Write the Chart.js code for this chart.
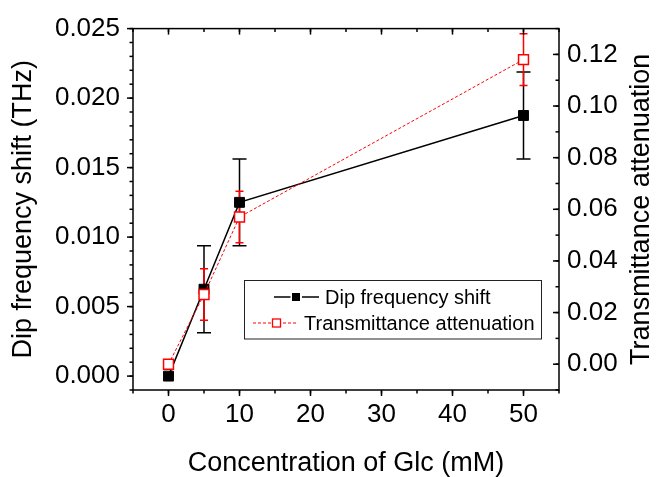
<!DOCTYPE html>
<html>
<head>
<meta charset="utf-8">
<script src="https://cdn.jsdelivr.net/npm/chart.js@4.4.1/dist/chart.umd.min.js"></script>
<style>
  html, body { margin: 0; padding: 0; background: #fff; }
  #chart { display: block; }
</style>
</head>
<body>
<canvas id="chart" width="656" height="477"></canvas>
<script>
// values
const concentration = [0, 5, 10, 50];
const freqShift = [0, 0.00625, 0.0125, 0.01875];
const freqShiftErr = [0, 0.003125, 0.003125, 0.003125];
const attenuation = [0, 0.027, 0.057, 0.118];
const attenuationErr = [0, 0.01, 0.01, 0.01];

const xTicks = [0, 10, 20, 30, 40, 50];
const leftTicks = [0, 0.005, 0.01, 0.015, 0.02, 0.025];
const leftTickLabels = ["0.000", "0.005", "0.010", "0.015", "0.020", "0.025"];
const rightTicks = [0, 0.02, 0.04, 0.06, 0.08, 0.1, 0.12];
const rightTickLabels = ["0.00", "0.02", "0.04", "0.06", "0.08", "0.10", "0.12"];

const FONT = "'Liberation Sans', Arial, sans-serif";
Chart.defaults.font.family = FONT;
Chart.defaults.color = "#000";

const toPoints = (ys) => concentration.map((x, i) => ({ x: x, y: ys[i] }));

// error bars, drawn under the markers
const errorBars = {
  id: "errorBars",
  beforeDatasetsDraw(chart) {
    const ctx = chart.ctx;
    const sets = [
      { ds: 0, err: freqShiftErr, color: "#000", cap: 7 },
      { ds: 1, err: attenuationErr, color: "#ff0000", cap: 4 },
    ];
    ctx.save();
    ctx.lineWidth = 1.5;
    sets.forEach((s) => {
      const ds = chart.data.datasets[s.ds];
      const xs = chart.scales.x;
      const ys = chart.scales[ds.yAxisID];
      ctx.strokeStyle = s.color;
      ds.data.forEach((p, i) => {
        const e = s.err[i];
        if (!e) return;
        const px = xs.getPixelForValue(p.x);
        const top = ys.getPixelForValue(p.y + e);
        const bot = ys.getPixelForValue(p.y - e);
        ctx.beginPath();
        ctx.moveTo(px, top);
        ctx.lineTo(px, bot);
        ctx.moveTo(px - s.cap, top);
        ctx.lineTo(px + s.cap, top);
        ctx.moveTo(px - s.cap, bot);
        ctx.lineTo(px + s.cap, bot);
        ctx.stroke();
      });
    });
    ctx.restore();
  },
};

// frame, major/minor ticks, right title and legend
const decorations = {
  id: "decorations",
  afterDraw(chart) {
    const { ctx, chartArea: a, scales } = chart;
    ctx.save();
    ctx.strokeStyle = "#000";
    ctx.lineWidth = 1.5;
    ctx.strokeRect(a.left, a.top, a.right - a.left, a.bottom - a.top);

    const line = (x1, y1, x2, y2) => {
      ctx.beginPath();
      ctx.moveTo(x1, y1);
      ctx.lineTo(x2, y2);
      ctx.stroke();
    };
    const steps = (scale, step) => {
      const out = [];
      for (let k = Math.ceil(scale.min / step - 1e-6); k * step <= scale.max + step * 1e-6; k++) out.push(k * step);
      return out;
    };
    const MAJ = 6, MIN = 3.5;

    // bottom (out) and top (in)
    steps(scales.x, 5).forEach((v) => {
      const px = scales.x.getPixelForValue(v);
      line(px, a.bottom, px, a.bottom + MIN);
      line(px, a.top, px, a.top + MIN);
    });
    xTicks.forEach((v) => {
      const px = scales.x.getPixelForValue(v);
      line(px, a.bottom, px, a.bottom + MAJ);
      line(px, a.top, px, a.top + MAJ);
    });
    // left (out)
    steps(scales.y, 0.001).forEach((v) => {
      const py = scales.y.getPixelForValue(v);
      line(a.left - MIN, py, a.left, py);
    });
    leftTicks.forEach((v) => {
      const py = scales.y.getPixelForValue(v);
      line(a.left - MAJ, py, a.left, py);
    });
    // right (in)
    steps(scales.y1, 0.01).forEach((v) => {
      const py = scales.y1.getPixelForValue(v);
      line(a.right - MIN, py, a.right, py);
    });
    rightTicks.forEach((v) => {
      const py = scales.y1.getPixelForValue(v);
      line(a.right - MAJ, py, a.right, py);
    });

    // right axis title, reading bottom to top
    ctx.save();
    ctx.translate(641.5, (a.top + a.bottom) / 2);
    ctx.rotate(-Math.PI / 2);
    ctx.font = "27px " + FONT;
    ctx.fillStyle = "#000";
    ctx.textAlign = "center";
    ctx.textBaseline = "middle";
    ctx.fillText("Transmittance attenuation", 0, 0);
    ctx.restore();

    // legend box
    const ds = chart.data.datasets;
    ctx.lineWidth = 1;
    ctx.strokeStyle = "#222";
    ctx.strokeRect(244.5, 280.5, 297, 58.5);
    ctx.font = "20px " + FONT;
    ctx.textBaseline = "middle";
    ctx.textAlign = "left";
    ctx.fillStyle = "#000";

    // row 1: black line + filled square
    const r1 = 297;
    ctx.lineWidth = 1.5;
    ctx.strokeStyle = "#000";
    line(274, r1, 290.5, r1);
    line(302, r1, 319, r1);
    ctx.fillRect(292, r1 - 4, 8, 8);
    ctx.fillText(ds[0].label, 325, r1 + 1);

    // row 2: red dashed line + open square
    const r2 = 323;
    ctx.strokeStyle = "#ff0000";
    ctx.lineWidth = 1;
    ctx.setLineDash([3, 2]);
    line(253, r2, 271, r2);
    line(283, r2, 297.5, r2);
    ctx.setLineDash([]);
    ctx.lineWidth = 1.3;
    ctx.strokeRect(272.5, r2 - 4, 8, 8);
    ctx.fillStyle = "#000";
    ctx.fillText(ds[1].label, 304, r2 + 1);
    ctx.restore();
  },
};

new Chart(document.getElementById("chart"), {
  type: "line",
  data: {
    datasets: [
      {
        label: "Dip frequency shift",
        data: toPoints(freqShift),
        yAxisID: "y",
        borderColor: "#000",
        borderWidth: 1.5,
        pointStyle: "rect",
        pointRadius: 7,
        pointBackgroundColor: "#000",
        pointBorderColor: "#000",
        pointBorderWidth: 1,
        order: 2,
      },
      {
        label: "Transmittance attenuation",
        data: toPoints(attenuation),
        yAxisID: "y1",
        borderColor: "#ff0000",
        borderWidth: 1,
        borderDash: [3, 2],
        pointStyle: "rect",
        pointRadius: 7,
        pointBackgroundColor: "#fff",
        pointBorderColor: "#ff0000",
        pointBorderWidth: 1.5,
        order: 1,
      },
    ],
  },
  options: {
    responsive: false,
    animation: false,
    layout: { padding: { top: 26, left: 0, right: 0, bottom: 0 } },
    plugins: {
      legend: { display: false },
      tooltip: { enabled: false },
    },
    scales: {
      x: {
        type: "linear",
        min: -5,
        max: 55,
        afterBuildTicks: (s) => { s.ticks = xTicks.map((v) => ({ value: v })); },
        afterFit: (s) => { s.height = 87; },
        grid: { display: false, drawTicks: false },
        border: { display: false },
        ticks: { font: { size: 26 }, padding: 9, maxRotation: 0, callback: (v) => String(v) },
        title: {
          display: true,
          text: "Concentration of Glc (mM)",
          font: { size: 27, lineHeight: 1 },
          padding: { top: 0, bottom: 0 },
        },
      },
      y: {
        type: "linear",
        position: "left",
        min: -0.001,
        max: 0.025,
        afterBuildTicks: (s) => { s.ticks = leftTicks.map((v) => ({ value: v })); },
        afterFit: (s) => { s.width = 133; },
        grid: { display: false, drawTicks: false },
        border: { display: false },
        ticks: {
          font: { size: 26 },
          padding: 13,
          callback: (v) => leftTickLabels[leftTicks.findIndex((t) => Math.abs(t - v) < 1e-9)],
        },
        title: {
          display: true,
          text: "Dip frequency shift (THz)",
          font: { size: 27, lineHeight: 1 },
          padding: { top: 10.5, bottom: 0 },
        },
      },
      y1: {
        type: "linear",
        position: "right",
        min: -0.01,
        max: 0.13,
        afterBuildTicks: (s) => { s.ticks = rightTicks.map((v) => ({ value: v })); },
        afterFit: (s) => { s.width = 97; },
        grid: { display: false, drawTicks: false },
        border: { display: false },
        ticks: {
          font: { size: 26 },
          padding: 8,
          callback: (v) => rightTickLabels[rightTicks.findIndex((t) => Math.abs(t - v) < 1e-9)],
        },
      },
    },
  },
  plugins: [errorBars, decorations],
});
</script>
</body>
</html>
